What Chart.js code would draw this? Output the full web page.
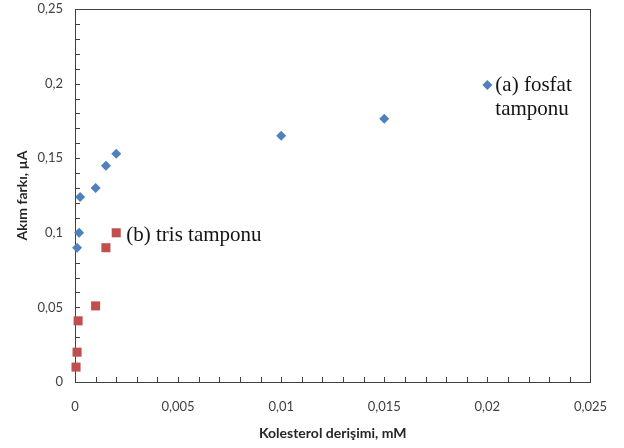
<!DOCTYPE html>
<html>
<head>
<meta charset="utf-8">
<script src="https://cdn.jsdelivr.net/npm/chart.js@4.4.0/dist/chart.umd.min.js"></script>
<style>
    html, body { margin: 0; padding: 0; background: #fff; }
    #wrap { width: 624px; height: 448px; }
</style>
</head>
<body>
<div id="wrap"><canvas id="myChart"></canvas></div>
<script>
// Messwerte: Konzentration (mM) und Stromdifferenz (µA)
const fosfatX = [0.0001, 0.0002, 0.00025, 0.001, 0.0015, 0.002, 0.01, 0.015, 0.02];
const fosfatY = [0.09, 0.1, 0.124, 0.13, 0.145, 0.153, 0.165, 0.1765, 0.199];
const trisX = [0.00005, 0.0001, 0.00015, 0.001, 0.0015, 0.002];
const trisY = [0.01, 0.02, 0.041, 0.051, 0.09, 0.1];

const xTicks = [0, 0.005, 0.01, 0.015, 0.02, 0.025];
const yTicks = [0, 0.05, 0.1, 0.15, 0.2, 0.25];
const xMinorStep = 0.001;
const yMinorStep = 0.01;

const fosfatLabel = ['(a) fosfat', 'tamponu'];
const trisLabel = ['(b) tris tamponu'];

const axisColor = '#404040';

function komma(v) {
    return String(+v.toFixed(4)).replace('.', ',');
}

function toPoints(xs, ys) {
    return xs.map((x, i) => ({ x: x, y: ys[i] }));
}

// Rahmen + kleine Striche nach innen, darüber die Serienbeschriftungen
const rahmen = {
    id: 'rahmen',
    beforeDatasetsDraw(chart) {
        const { ctx, chartArea: a, scales: { x, y } } = chart;
        ctx.save();
        ctx.strokeStyle = axisColor;
        ctx.lineWidth = 1;
        ctx.beginPath();
        for (let v = xMinorStep; v <= x.max + 1e-9; v += xMinorStep) {
            const px = Math.round(x.getPixelForValue(v)) + 0.5;
            ctx.moveTo(px, a.bottom);
            ctx.lineTo(px, a.bottom - 5);
        }
        for (let v = yMinorStep; v <= y.max + 1e-9; v += yMinorStep) {
            const py = Math.round(y.getPixelForValue(v)) + 0.5;
            ctx.moveTo(a.left, py);
            ctx.lineTo(a.left + 5, py);
        }
        ctx.stroke();
        ctx.strokeRect(Math.round(a.left) + 0.5, Math.round(a.top) + 0.5,
            Math.round(a.right - a.left), Math.round(a.bottom - a.top));
        ctx.restore();
    },
    afterDatasetsDraw(chart) {
        const { ctx } = chart;
        ctx.save();
        ctx.font = '21px "Liberation Serif"';
        ctx.fillStyle = '#141414';
        ctx.textBaseline = 'middle';
        chart.data.datasets.forEach((ds, i) => {
            const last = chart.getDatasetMeta(i).data[ds.data.length - 1];
            ds.endLabel.forEach((line, k) => {
                ctx.fillText(line, last.x + ds.labelDx, last.y + ds.labelDy + k * 24);
            });
        });
        ctx.restore();
    }
};

new Chart(document.getElementById('myChart'), {
    type: 'scatter',
    data: {
        datasets: [{
            label: 'fosfat',
            data: toPoints(fosfatX, fosfatY),
            pointStyle: 'rectRot',
            pointRadius: 5,
            pointHoverRadius: 5,
            backgroundColor: '#4F81BD',
            borderColor: '#4F81BD',
            borderWidth: 0,
            clip: false,
            endLabel: fosfatLabel,
            labelDx: 8,
            labelDy: 0
        }, {
            label: 'tris',
            data: toPoints(trisX, trisY),
            pointStyle: 'rect',
            pointRadius: 6.4,
            pointHoverRadius: 6.4,
            backgroundColor: '#C0504D',
            borderColor: '#C0504D',
            borderWidth: 0,
            clip: false,
            endLabel: trisLabel,
            labelDx: 10,
            labelDy: 3
        }]
    },
    options: {
        animation: false,
        responsive: true,
        maintainAspectRatio: false,
        layout: { padding: { left: 0, top: 9, right: 33, bottom: 0 } },
        plugins: {
            legend: { display: false },
            tooltip: { enabled: false }
        },
        scales: {
            x: {
                type: 'linear',
                min: 0,
                max: 0.025,
                grid: { display: false, drawTicks: false },
                border: { color: axisColor, width: 1 },
                afterBuildTicks: s => { s.ticks = xTicks.map(v => ({ value: v })); },
                afterFit: s => { s.height = 66; },
                ticks: {
                    padding: 17,
                    color: '#404040',
                    font: { family: 'Lato', size: 13 },
                    callback: v => komma(v)
                },
                title: {
                    display: true,
                    text: 'Kolesterol derişimi, mM',
                    color: '#262626',
                    font: { family: 'Lato', size: 14, weight: 'bold' },
                    padding: { top: 0, bottom: 6 }
                }
            },
            y: {
                type: 'linear',
                min: 0,
                max: 0.25,
                grid: { display: false, drawTicks: false },
                border: { color: axisColor, width: 1 },
                afterBuildTicks: s => { s.ticks = yTicks.map(v => ({ value: v })); },
                afterFit: s => {
                    s.width = 75;
                    s.paddingTop = 0;
                    s.paddingBottom = 0;
                },
                ticks: {
                    padding: 12,
                    color: '#404040',
                    font: { family: 'Lato', size: 13 },
                    callback: v => komma(v)
                },
                title: {
                    display: true,
                    text: 'Akım farkı, µA',
                    color: '#262626',
                    font: { family: 'Lato', size: 14, weight: 'bold' },
                    padding: { top: 14, bottom: 0 }
                }
            }
        }
    },
    plugins: [rahmen]
});
</script>
</body>
</html>
